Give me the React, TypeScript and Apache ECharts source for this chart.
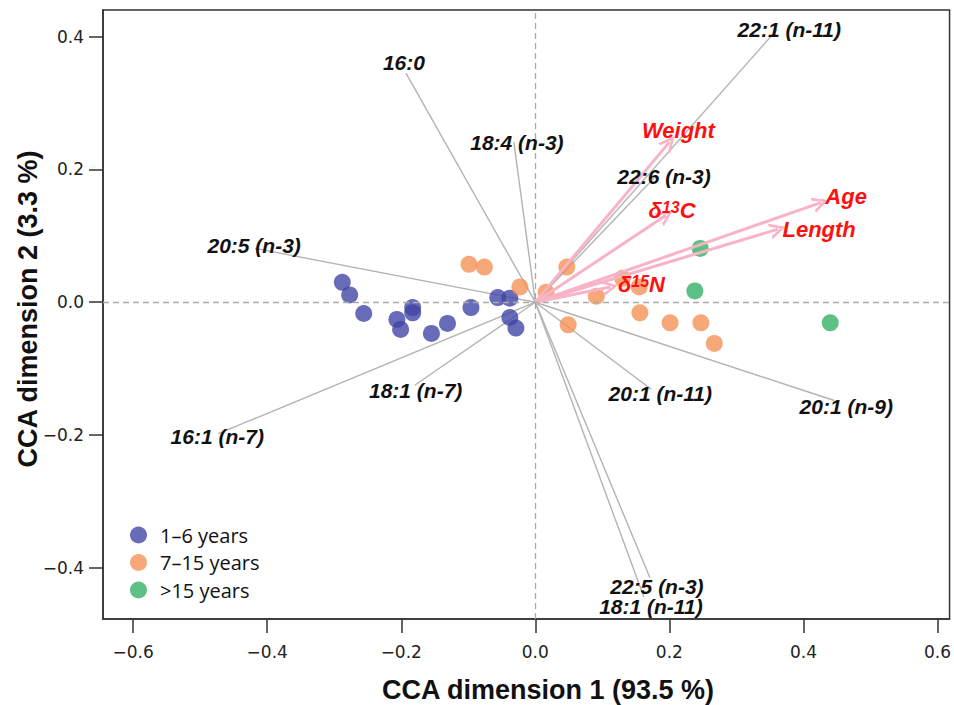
import React, { useEffect, useRef } from "react";
import * as echarts from "echarts";

// Axis ticks
const xTicks = [-0.6, -0.4, -0.2, 0, 0.2, 0.4, 0.6];
const yTicks = [-0.4, -0.2, 0, 0.2, 0.4];

// Site scores (samples) by age group
const blueX = [-0.288, -0.277, -0.256, -0.2065, -0.201, -0.183, -0.183, -0.155, -0.131, -0.096, -0.056, -0.038, -0.038, -0.029];
const blueY = [0.030, 0.011, -0.017, -0.026, -0.041, -0.008, -0.016, -0.047, -0.032, -0.008, 0.007, 0.006, -0.023, -0.039];
const orangeX = [-0.099, -0.076, -0.023, 0.016, 0.047, 0.049, 0.091, 0.130, 0.155, 0.156, 0.201, 0.247, 0.267];
const orangeY = [0.057, 0.053, 0.023, 0.015, 0.053, -0.034, 0.009, 0.036, 0.023, -0.016, -0.031, -0.031, -0.062];
const greenX = [0.246, 0.238, 0.440];
const greenY = [0.081, 0.017, -0.031];

// Fatty acid vectors
const acidNames = ["16:0", "18:4 (n-3)", "22:1 (n-11)", "22:6 (n-3)", "20:5 (n-3)", "16:1 (n-7)", "18:1 (n-7)", "20:1 (n-11)", "20:1 (n-9)", "22:5 (n-3)", "18:1 (n-11)"];
const acidX = [-0.193, -0.032, 0.361, 0.180, -0.418, -0.473, -0.180, 0.173, 0.446, 0.171, 0.162];
const acidY = [0.345, 0.241, 0.411, 0.190, 0.081, -0.198, -0.125, -0.131, -0.148, -0.415, -0.444];

// Environmental vectors
const envNames = ["Weight", "δ13C", "Age", "Length", "δ15N"];
const envX = [0.200, 0.195, 0.426, 0.362, 0.112];
const envY = [0.241, 0.131, 0.150, 0.110, 0.023];

const groupNames = ["1–6 years", "7–15 years", ">15 years"];

const fmt = (v: number) => {
  const s = Math.abs(v).toFixed(1);
  return v < -1e-9 ? "\u2212" + s : s;
};

const envLabelPlacement: Record<string, any> = {
  Weight: { position: "top", distance: 0, offset: [9, 0] },
  "δ13C": { position: "inside", offset: [6, -5] },
  Age: { position: "right", distance: 4, offset: [0, -6] },
  Length: { position: "right", distance: 4, offset: [0, 0] },
  "δ15N": { position: "right", distance: 7, offset: [0, -2] },
};

const acidLabelOffset: Record<string, number[]> = {
  "16:0": [-2, -11],
  "18:4 (n-3)": [3, 0],
  "22:1 (n-11)": [12, 0],
  "22:6 (n-3)": [8, 0],
  "20:5 (n-3)": [-1, -3],
  "16:1 (n-7)": [-1, 3],
  "18:1 (n-7)": [1, 5],
  "20:1 (n-11)": [9, 4],
  "20:1 (n-9)": [12, 6],
  "22:5 (n-3)": [7, 9],
  "18:1 (n-11)": [7, 9],
};

// open chevron arrow head (points up before rotation)
const chevron = "path://M6,0 L12,15 L9.6,15 L6,5.2 L2.4,15 L0,15 Z";

export default function App() {
  const ref = useRef<HTMLDivElement>(null);

  useEffect(() => {
    const chart = echarts.init(ref.current!, null, { renderer: "svg" });

    const scatterStyle = (color: string) => ({
      color,
      opacity: 0.78,
    });

    const option: any = {
      animation: false,
      backgroundColor: "#ffffff",
      grid: {
        left: 103,
        top: 10,
        width: 848,
        height: 609,
        show: true,
        borderColor: "#333",
        borderWidth: 1.5,
        backgroundColor: "transparent",
      },
      xAxis: {
        type: "value",
        min: -0.645,
        max: 0.618,
        splitLine: { show: false },
        axisLine: { show: true, onZero: false, lineStyle: { color: "#333", width: 1.5 } },
        axisTick: {
          show: true,
          inside: false,
          length: 14,
          customValues: xTicks,
          lineStyle: { color: "#333", width: 1.5 },
        },
        axisLabel: {
          customValues: xTicks,
          formatter: (v: number) => fmt(v),
          margin: 24,
          fontFamily: "DejaVu Sans",
          fontSize: 17,
          color: "#222",
        },
      },
      yAxis: {
        type: "value",
        min: -0.477,
        max: 0.44,
        splitLine: { show: false },
        axisLine: { show: true, onZero: false, lineStyle: { color: "#333", width: 1.5 } },
        axisTick: {
          show: true,
          inside: false,
          length: 14,
          customValues: yTicks,
          lineStyle: { color: "#333", width: 1.5 },
        },
        axisLabel: {
          customValues: yTicks,
          formatter: (v: number) => fmt(v),
          margin: 19,
          fontFamily: "DejaVu Sans",
          fontSize: 17,
          color: "#222",
        },
      },
      legend: {
        data: groupNames,
        orient: "vertical",
        left: 125,
        top: 520,
        icon: "circle",
        itemWidth: 17,
        itemHeight: 17,
        itemGap: 7.5,
        textStyle: {
          fontFamily: "Open Sans",
          fontSize: 20,
          color: "#111",
          padding: [0, 0, 0, 8],
        },
      },
      graphic: [
        {
          type: "text",
          x: 548,
          y: 690,
          style: {
            text: "CCA dimension 1 (93.5 %)",
            fontFamily: "Liberation Sans",
            fontWeight: "bold",
            fontSize: 27,
            fill: "#111",
            align: "center",
            verticalAlign: "middle",
          },
        },
        {
          type: "text",
          x: 28,
          y: 309,
          rotation: Math.PI / 2,
          style: {
            text: "CCA dimension 2 (3.3 %)",
            fontFamily: "Liberation Sans",
            fontWeight: "bold",
            fontSize: 27,
            fill: "#111",
            align: "center",
            verticalAlign: "middle",
          },
        },
      ],
      series: [
        {
          name: "acidLines",
          type: "lines",
          coordinateSystem: "cartesian2d",
          silent: true,
          z: 1,
          symbol: ["none", "none"],
          lineStyle: { color: "#b3b3b3", width: 1.4, opacity: 1 },
          data: acidNames.map((n, i) => ({
            name: n,
            coords: [
              [0, 0],
              [acidX[i], acidY[i]],
            ],
          })),
        },
        {
          name: "zeroLines",
          type: "scatter",
          silent: true,
          z: 1,
          data: [],
          markLine: {
            silent: true,
            symbol: ["none", "none"],
            label: { show: false },
            lineStyle: { type: [6, 4], color: "#aaaaaa", width: 1.3 },
            data: [{ xAxis: 0 }, { yAxis: 0 }],
          },
        },
        {
          name: groupNames[0],
          type: "scatter",
          z: 3,
          symbolSize: 17,
          itemStyle: scatterStyle("#3e43a4"),
          data: blueX.map((x, i) => [x, blueY[i]]),
        },
        {
          name: groupNames[1],
          type: "scatter",
          z: 3,
          symbolSize: 17,
          itemStyle: scatterStyle("#f48f52"),
          data: orangeX.map((x, i) => [x, orangeY[i]]),
        },
        {
          name: groupNames[2],
          type: "scatter",
          z: 3,
          symbolSize: 17,
          itemStyle: scatterStyle("#2fae62"),
          data: greenX.map((x, i) => [x, greenY[i]]),
        },
        {
          name: "envArrows",
          type: "lines",
          coordinateSystem: "cartesian2d",
          silent: true,
          z: 4,
          symbol: ["none", chevron],
          symbolSize: [13, 16],
          lineStyle: { color: "#f8b4c6", width: 3, opacity: 1 },
          data: envNames.map((n, i) => ({
            name: n,
            coords: [
              [0, 0],
              [envX[i], envY[i]],
            ],
          })),
        },
        {
          name: "acidLabels",
          type: "scatter",
          silent: true,
          z: 5,
          symbol: "circle",
          symbolSize: 1,
          itemStyle: { color: "rgba(0,0,0,0)", opacity: 1 },
          label: {
            show: true,
            position: "inside",
            formatter: (p: any) => p.name,
            fontFamily: "Liberation Sans",
            fontWeight: "bold",
            fontStyle: "italic",
            fontSize: 21,
            color: "#111",
            opacity: 1,
            textBorderWidth: 0,
          },
          data: acidNames.map((n, i) => ({
            name: n,
            value: [acidX[i], acidY[i]],
            label: { offset: acidLabelOffset[n] || [6, 5] },
          })),
        },
        {
          name: "envLabels",
          type: "scatter",
          silent: true,
          z: 6,
          symbol: "circle",
          symbolSize: 1,
          itemStyle: { color: "rgba(0,0,0,0)", opacity: 1 },
          label: {
            show: true,
            formatter: (p: any) => (p.name as string).replace(/(\d+)/, "{sup|$1}"),
            fontFamily: "Liberation Sans",
            fontWeight: "bold",
            fontStyle: "italic",
            fontSize: 22,
            color: "#ff0f0f",
            opacity: 1,
            textBorderWidth: 0,
            rich: {
              sup: {
                fontFamily: "Liberation Sans",
                fontWeight: "bold",
                fontStyle: "italic",
                fontSize: 16,
                color: "#ff0f0f",
                verticalAlign: "top",
                lineHeight: 14,
                padding: [0, 0, 14, 0],
              },
            },
          },
          data: envNames.map((n, i) => ({
            name: n,
            value: [envX[i], envY[i]],
            label: envLabelPlacement[n],
          })),
        },
      ],
    };

    chart.setOption(option);
    return () => chart.dispose();
  }, []);

  return (
    <div
      ref={ref}
      style={{ position: "fixed", left: 0, top: 0, width: 954, height: 705, background: "#fff" }}
    />
  );
}
